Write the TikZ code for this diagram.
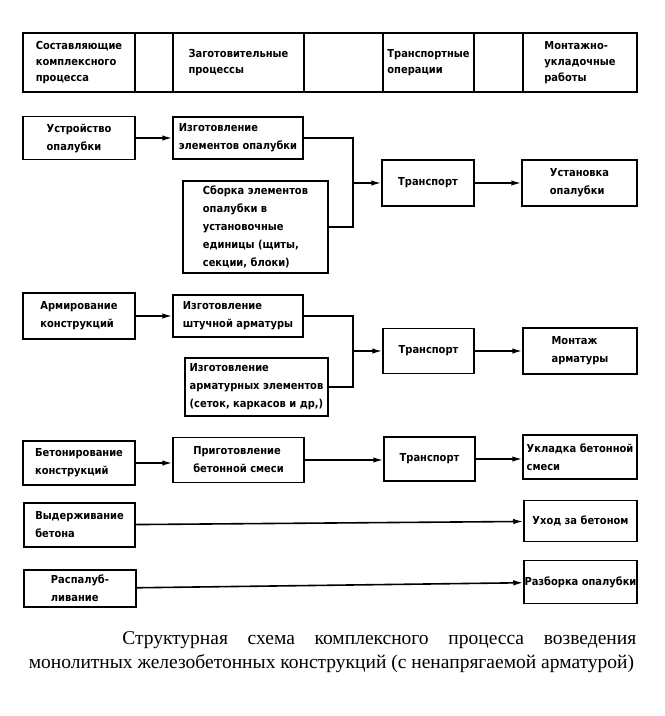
\documentclass[tikz,border=0pt]{standalone}
\usepackage{fontspec}
\setmainfont{Liberation Serif}
\newfontfamily\boxfont{DejaVu Sans Condensed}
\usetikzlibrary{arrows.meta}
\tikzset{
    every node/.style={draw, line width=1.5pt, inner sep=0pt, align=left,
    	font=\boxfont\bfseries\fontsize{11}{18}\selectfont}
}
\tikzset{
    every edge/.append style={line width=1.6pt}
}
\tikzset{
	wh/.style 2 args={minimum width=#1, minimum height=#2},
	hcell/.style={line width=1.3pt, minimum height=59pt,
		font=\boxfont\bfseries\fontsize{11}{16}\selectfont},
	arr/.style={-{Latex[length=10pt,width=5.5pt]}},
	capt/.style={draw=none, font=\rmfamily\fontsize{19.5}{24}\selectfont}
}

\begin{document}
\begin{tikzpicture}[x=1pt, y=-1pt]
  \useasboundingbox (0,0) rectangle (665,716);
  % header
  \node[hcell, minimum width=112pt] (h1) at (79, 62.5) {Составляющие\\комплексного\\процесса};
  \node[hcell, minimum width=38pt] (e1) at (154, 62.5) {};
  \node[hcell, minimum width=131pt] (h2) at (238.5, 62.5) {Заготовительные\\процессы};
  \node[hcell, minimum width=79pt] (e2) at (343.5, 62.5) {};
  \node[hcell, minimum width=91pt] (h3) at (428.5, 62.5) {Транспортные\\операции};
  \node[hcell, minimum width=49pt] (e3) at (498.5, 62.5) {};
  \node[hcell, minimum width=114pt] (h4) at (580, 62.5) {Монтажно-\\укладочные\\работы};

  % formwork
  \node[wh={112pt}{43pt}] (ustr) at (79, 138) {Устройство\\опалубки};
  \node[wh={130pt}{42pt}] (izg1) at (238, 138) {Изготовление\\элементов опалубки};
  \node[wh={145pt}{92pt}] (sbor) at (255.5, 227) {Сборка элементов\\опалубки в\\установочные\\единицы (щиты,\\секции, блоки)};
  \node[wh={92pt}{46pt}] (tr1) at (428, 183) {Транспорт};
  \node[wh={115pt}{46pt}] (ust) at (579.5, 183) {Установка\\опалубки};
  \coordinate (j1) at (353, 183);

  % reinforcement
  \node[wh={112pt}{46pt}] (arm) at (79, 316) {Армирование\\конструкций};
  \node[wh={130pt}{42pt}] (izg2) at (238, 316) {Изготовление\\штучной арматуры};
  \node[wh={143pt}{58pt}] (izg3) at (256.5, 387) {Изготовление\\арматурных элементов\\(сеток, каркасов и др,)};
  \node[wh={91pt}{45pt}] (tr2) at (428.5, 351) {Транспорт};
  \node[wh={114pt}{46pt}] (mont) at (580, 351) {Монтаж\\арматуры};
  \coordinate (j2) at (353, 351);

  % concrete
  \node[wh={112pt}{44pt}] (bet) at (79, 463) {Бетонирование\\конструкций};
  \node[wh={131pt}{45pt}] (prig) at (238.5, 460) {Приготовление\\бетонной смеси};
  \node[wh={91pt}{44pt}] (tr3) at (429.5, 459) {Транспорт};
  \node[wh={114pt}{44pt}] (ukl) at (580, 457) {Укладка бетонной\\смеси};

  \node[wh={111pt}{44pt}] (vyd) at (79.5, 525) {Выдерживание\\бетона};
  \node[wh={113pt}{41pt}] (uhod) at (580.5, 521) {Уход за бетоном};
  \node[wh={112pt}{37pt}] (rasp) at (80, 588.5) {Распалуб-\\ливание};
  \node[wh={113pt}{43pt}] (razb) at (580.5, 582) {Разборка опалубки};

  \draw (ustr) edge[arr] (izg1); \draw (tr1) edge[arr] (ust);
  \draw[line width=1.6pt] (izg1.east) -| (j1) |- (sbor.east);
  \draw (j1) edge[arr] (tr1);
  \draw (arm) edge[arr] (izg2); \draw (tr2) edge[arr] (mont);
  \draw[line width=1.6pt] (izg2.east) -| (j2) |- (izg3.east);
  \draw (j2) edge[arr] (tr2);
  \draw (bet) edge[arr] (bet -| prig.west); \draw (prig) edge[arr] (prig -| tr3.west);
  \draw (tr3) edge[arr] (tr3 -| ukl.west);
  \draw (vyd) edge[arr] (uhod); \draw (rasp) edge[arr] (razb);

  % caption
  \node[capt, anchor=base east] (cap1) at (637, 644)
    {\makebox[514pt][s]{Структурная схема комплексного процесса возведения}};
  \node[capt, anchor=base west] (cap2) at (28, 668)
    {монолитных железобетонных конструкций (с ненапрягаемой арматурой)};
\end{tikzpicture}
\end{document}
